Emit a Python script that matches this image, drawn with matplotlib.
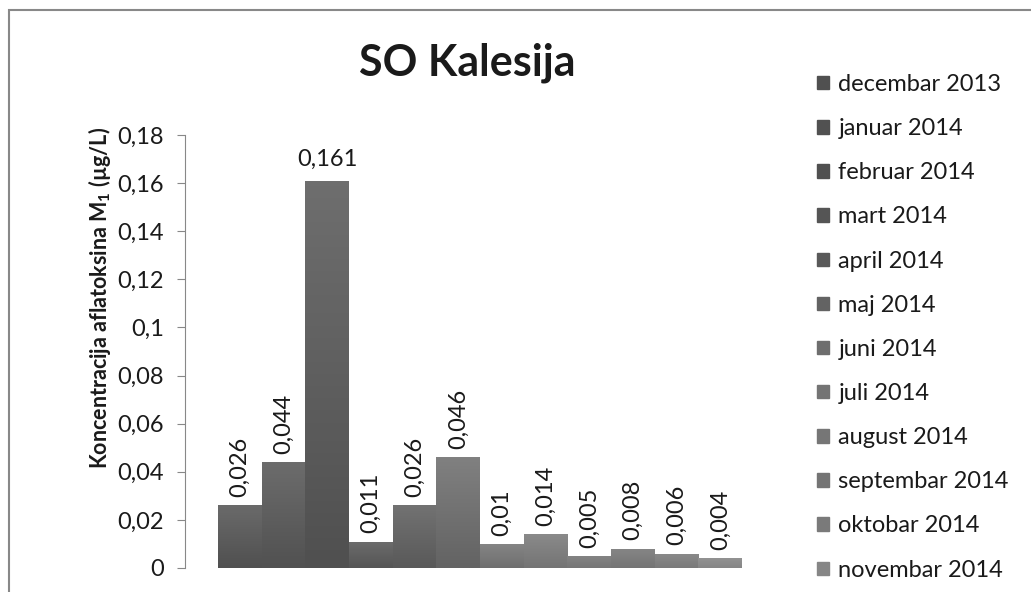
import numpy as np
import matplotlib
matplotlib.use("Agg")
import matplotlib.pyplot as plt
from matplotlib.patches import Rectangle

plt.rcParams['font.family'] = ['Lato', 'DejaVu Sans']
plt.rcParams['mathtext.default'] = 'regular'

# data
months = ["decembar 2013", "januar 2014", "februar 2014", "mart 2014", "april 2014",
          "maj 2014", "juni 2014", "juli 2014", "august 2014", "septembar 2014",
          "oktobar 2014", "novembar 2014"]
values = [0.026, 0.044, 0.161, 0.011, 0.026, 0.046, 0.01, 0.014, 0.005, 0.008, 0.006, 0.004]
value_labels = ["0,026", "0,044", "0,161", "0,011", "0,026", "0,046", "0,01", "0,014",
                "0,005", "0,008", "0,006", "0,004"]
yticks = [0, 0.02, 0.04, 0.06, 0.08, 0.1, 0.12, 0.14, 0.16, 0.18]
ytick_labels = ["0", "0,02", "0,04", "0,06", "0,08", "0,1", "0,12", "0,14", "0,16", "0,18"]

# gray gradient per series (top, bottom)
top_cols = ["#6a6a6a", "#6c6c6c", "#6e6e6e", "#6c6c6c", "#727272", "#808080",
            "#868686", "#8a8a8a", "#848484", "#868686", "#8a8a8a", "#929292"]
bot_cols = ["#505050", "#515151", "#505050", "#555555", "#595959", "#636363",
            "#6e6e6e", "#747474", "#767676", "#747474", "#7a7a7a", "#868686"]

fig = plt.figure(figsize=(10.31, 5.92), dpi=100)
ax = fig.add_axes([185 / 1031, 1 - 568 / 592, 590 / 1031, 433 / 592])

x = np.arange(len(values))
bars = ax.bar(x, values, width=1.0, color=bot_cols, linewidth=0)

def hex2rgb(h):
    return np.array([int(h[i:i + 2], 16) / 255 for i in (1, 3, 5)])

for b, tc, bc in zip(bars, top_cols, bot_cols):
    t = np.linspace(0, 1, 64)[:, None]
    grad = hex2rgb(bc)[None, :] * (1 - t) + hex2rgb(tc)[None, :] * t
    grad = grad[:, None, :]
    x0, y0 = b.get_x(), b.get_y()
    im = ax.imshow(grad, extent=[x0, x0 + b.get_width(), y0, y0 + b.get_height()],
                   origin='lower', aspect='auto', zorder=2)
    im.set_clip_path(b)

for xi, v, lab in zip(x, values, value_labels):
    if v > 0.1:
        ax.annotate(lab, (xi, v), xytext=(0, 8), textcoords='offset points',
                    ha='center', va='bottom', fontsize=17, color='#1a1a1a')
    else:
        ax.annotate(lab, (xi, v), xytext=(0, 6), textcoords='offset points',
                    ha='center', va='bottom', rotation=90, fontsize=17, color='#1a1a1a')

ax.set_xlim(-1.256, 12.256)
ax.set_ylim(0, 0.18)
ax.set_yticks(yticks)
ax.set_yticklabels(ytick_labels, fontsize=17, color='#1a1a1a')
ax.set_xticks([])
for s in ['top', 'right', 'bottom']:
    ax.spines[s].set_visible(False)
ax.spines['left'].set_color('#888888')
ax.tick_params(axis='y', length=6, color='#888888', pad=9)

fig.text(467 / 1031, 1 - 63 / 592, "SO Kalesija", fontsize=31, fontweight='bold',
         ha='center', va='center', color='#1a1a1a')
fig.text(100 / 1031, 1 - 298 / 592, "Koncentracija aflatoksina M$_1$ (µg/L)",
         fontsize=15.5, fontweight='bold', rotation=90, ha='center', va='center',
         color='#1a1a1a')

handles = [Rectangle((0, 0), 1, 1, color=c) for c in bot_cols]
fig.legend(handles, months, loc='upper left', bbox_to_anchor=(810 / 1031, 1 - 67 / 592),
           frameon=False, fontsize=17, handlelength=0.5, handleheight=0.5,
           handletextpad=0.4, labelspacing=0.98, labelcolor='#1a1a1a',
           borderaxespad=0, borderpad=0.3)

# chart border
fig.patches.append(Rectangle((9 / 1031, 1 - 600 / 592), 1.1, 590 / 592,
                             transform=fig.transFigure, fill=False,
                             edgecolor='#888888', linewidth=1.5))

fig.savefig("out.png", dpi=100)
